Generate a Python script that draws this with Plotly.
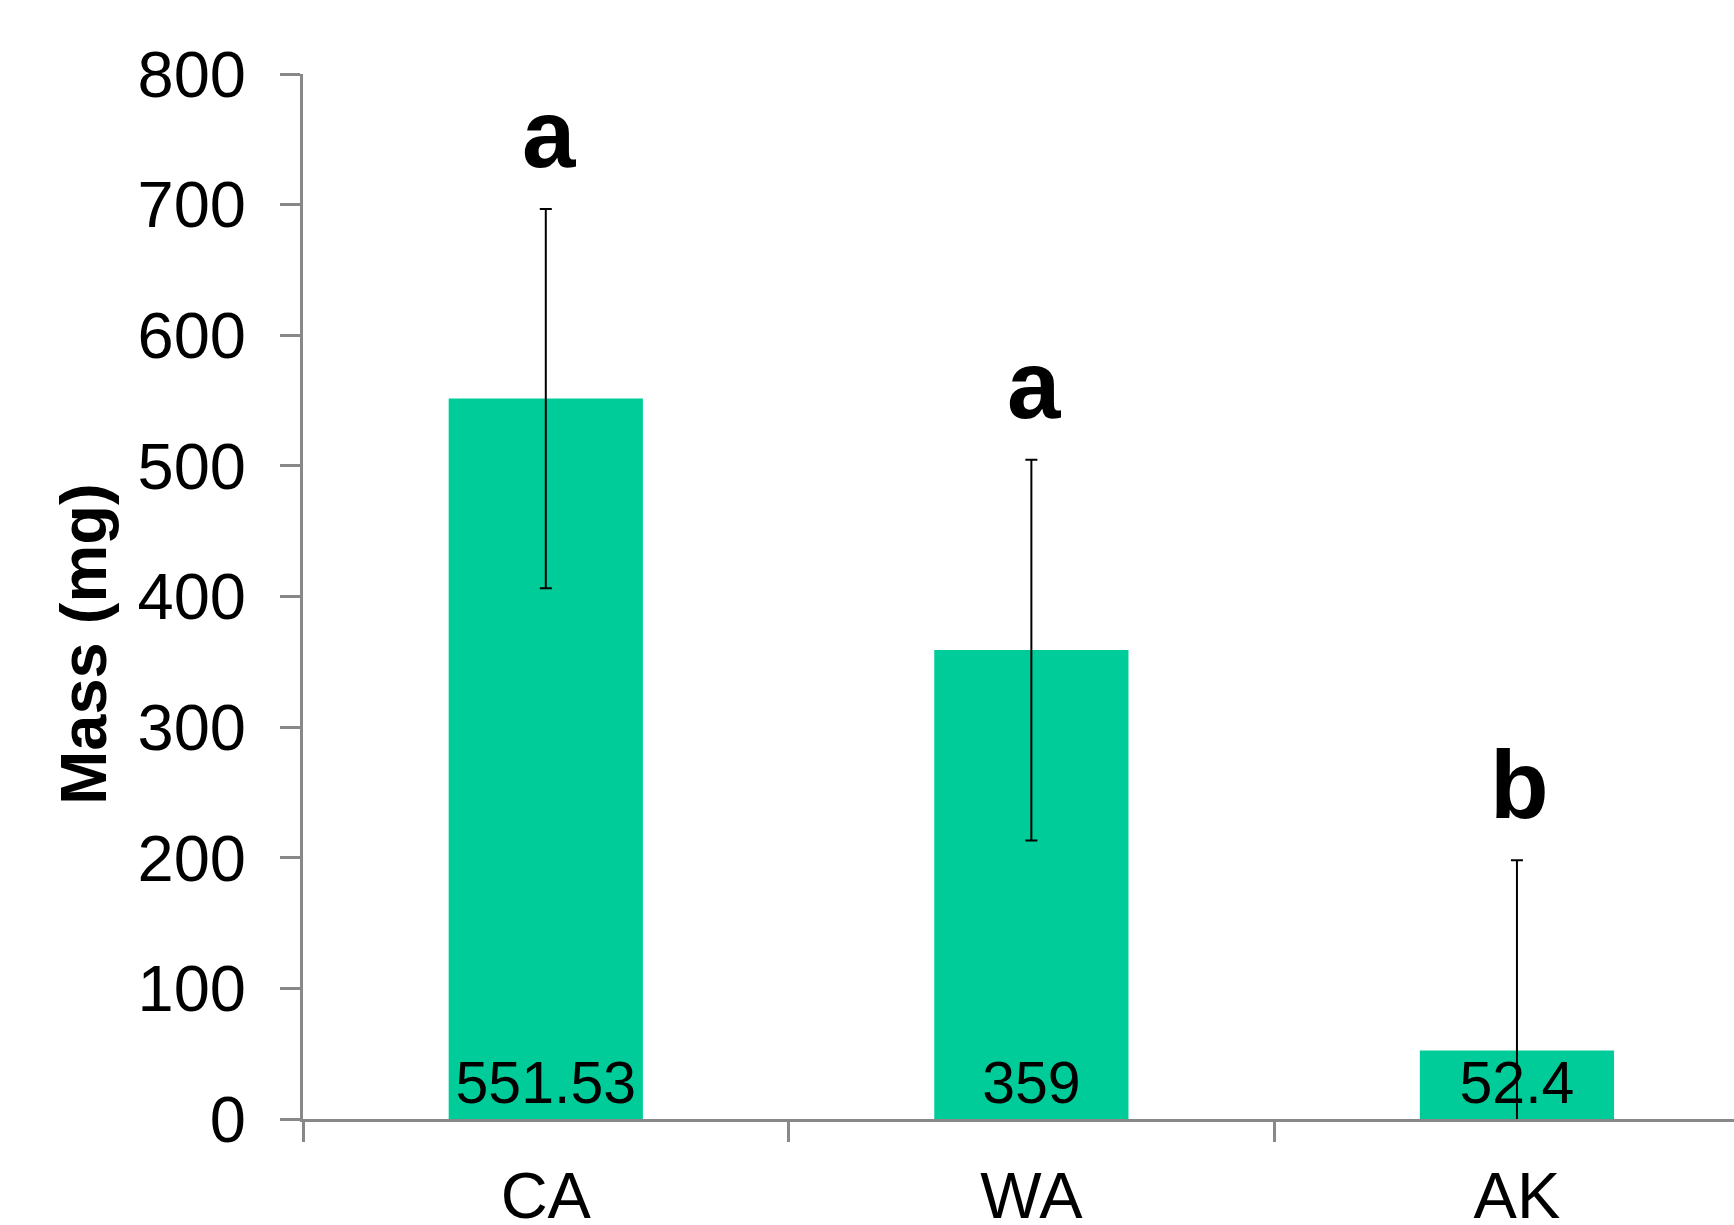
import plotly.graph_objects as go

# Mean dry mass per population, with error and significance groups
regions = ["CA", "WA", "AK"]
mass_mg = [551.53, 359, 52.4]
mass_err = [145.2, 145.7, 145.7]
groups = ["a", "a", "b"]
y_ticks = [0, 100, 200, 300, 400, 500, 600, 700, 800]

BAR_COLOR = "#00CC99"
AXIS_COLOR = "#888888"
FONT = "Liberation Sans, Arial, sans-serif"

fig = go.Figure()
fig.add_trace(go.Bar(
    x=regions,
    y=mass_mg,
    width=0.4,
    marker=dict(color=BAR_COLOR, line=dict(width=0)),
    error_y=dict(type="data", array=mass_err, visible=True,
                 color="black", thickness=2, width=6),
    text=[str(v) for v in mass_mg],
    textposition="inside",
    insidetextanchor="start",
    textangle=0,
    constraintext="none",
    textfont=dict(family=FONT, size=59, color="black"),
    hoverinfo="skip",
))

# Significance letters above each error bar
for r, m, e, g in zip(regions, mass_mg, mass_err, groups):
    fig.add_annotation(
        x=r, y=m + e, xref="x", yref="y",
        text=f"<b>{g}</b>", showarrow=False,
        yanchor="bottom", yshift=20, xshift=3,
        font=dict(family=FONT, size=96, color="black"),
    )

# Y-axis title
fig.add_annotation(
    x=0, y=363, xref="paper", yref="y",
    text="<b>Mass (mg)</b>", showarrow=False, textangle=-90,
    xanchor="center", yanchor="middle", xshift=-219,
    font=dict(family=FONT, size=65, color="black"),
)

fig.update_layout(
    width=1734, height=1225,
    margin=dict(l=303, r=0, t=74, b=106, autoexpand=False),
    paper_bgcolor="white", plot_bgcolor="white",
    showlegend=False,
    font=dict(family=FONT, color="black"),
)
fig.update_xaxes(
    type="category",
    range=[-0.5, 2.447],
    automargin=False,
    showline=True, linecolor=AXIS_COLOR, linewidth=3,
    ticks="outside", tickson="boundaries", ticklen=20,
    tickwidth=3, tickcolor=AXIS_COLOR,
    tickfont=dict(family=FONT, size=65, color="black"),
    ticklabelstandoff=18,
    showgrid=False, zeroline=False,
)
fig.update_yaxes(
    range=[0, 800],
    tickvals=y_ticks,
    automargin=False,
    showline=True, linecolor=AXIS_COLOR, linewidth=3,
    ticks="outside", ticklen=20, tickwidth=3, tickcolor=AXIS_COLOR,
    tickfont=dict(family=FONT, size=65, color="black"),
    ticklabelstandoff=21,
    showgrid=False, zeroline=False,
)

fig.write_html("out.html")
